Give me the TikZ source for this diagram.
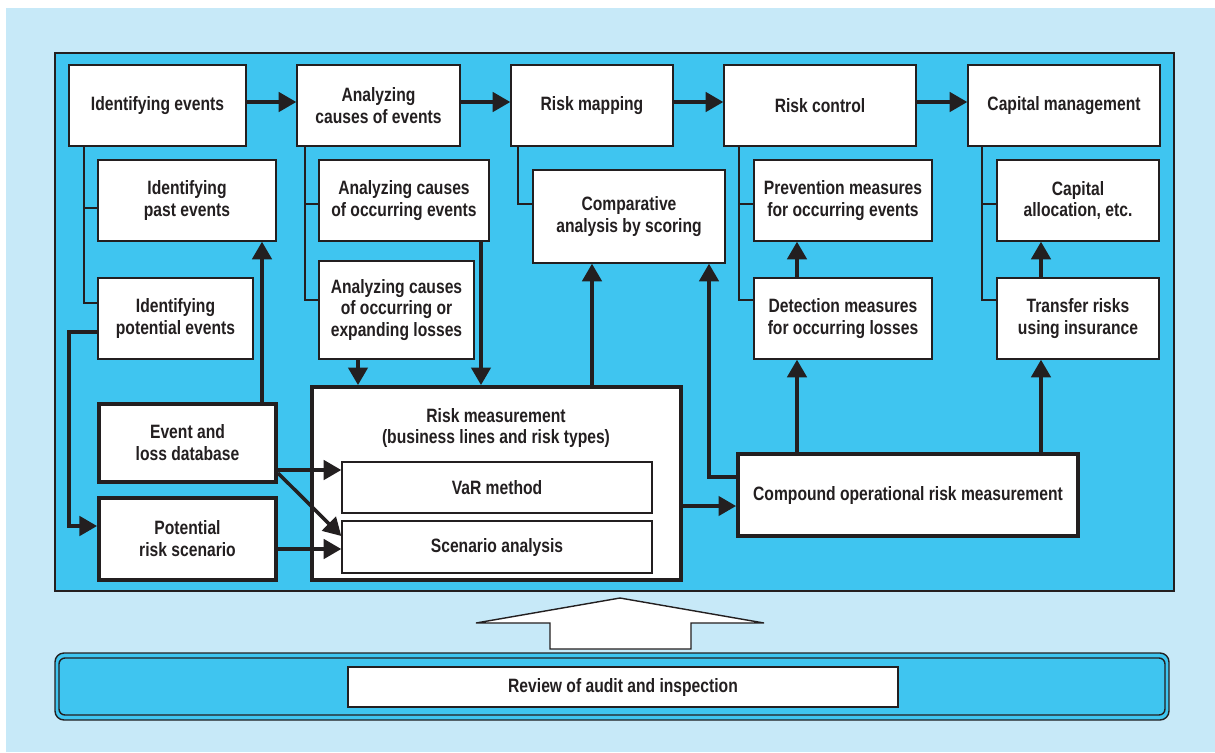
\documentclass[tikz,border=0pt]{standalone}
\usepackage{fontspec}
\setmainfont{Liberation Sans}[FakeStretch=0.81]
\usetikzlibrary{arrows.meta}
\definecolor{ink}{HTML}{231F20}
\definecolor{panel}{HTML}{3FC5F0}
\definecolor{pale}{HTML}{C7E9F8}
\newcommand\lbl{\fontsize{11}{12.5}\selectfont\bfseries}

\begin{document}
\begin{tikzpicture}[x=0.02cm,y=-0.02cm,
  boxspan/.style args={#1/#2/#3/#4}{minimum width={(#3-#1)*0.02cm},
      minimum height={(#4-#2)*0.02cm}, at={({(#1+#3)/2},{(#2+#4)/2})}},
  thinbox/.style={draw=ink,line width=0.8pt,fill=white,inner sep=0pt,
                  align=center,font=\lbl,text=ink},
  thickbox/.style={thinbox,line width=2.2pt},
  tree/.style={draw=ink,line width=0.8pt},
  flow/.style={draw=ink,line width=2pt,-{Triangle[length=10pt,width=11pt]}},
  caption/.style={font=\lbl,align=center,text=ink}]

\useasboundingbox (0,0) rectangle (1215,752);
\fill[white] (0,0) rectangle (1215,752);
\fill[pale] (6,8) rectangle (1215,752);

% main process panel
\draw[ink,line width=0.8pt,fill=panel] (55,53) rectangle (1174,591);

% top row
\node[thinbox,boxspan=69/65/246/146]   (ie)   {Identifying events};
\node[thinbox,boxspan=297/65/460/146]  (ace)  {Analyzing\\causes of events};
\node[thinbox,boxspan=511/65/673/146]  (rmap) {Risk mapping};
\node[thinbox,boxspan=724/65/916/146]  (rc)   {Risk control};
\node[thinbox,boxspan=968/65/1160/146] (cm)   {Capital management};

% second level
\node[thinbox,boxspan=98/160/276/241]   (past) {Identifying\\past events};
\node[thinbox,boxspan=98/278/253/359]   (ipe)  {Identifying\\potential events};
\node[thinbox,boxspan=319/160/489/241]  (aoe)  {Analyzing causes\\of occurring events};
\node[thinbox,boxspan=319/261/474/359]  (exl)  {Analyzing causes\\of occurring or\\expanding losses};
\node[thinbox,boxspan=533/170/725/263]  (cas)  {Comparative\\analysis by scoring};
\node[thinbox,boxspan=754/160/932/241]  (pme)  {Prevention measures\\for occurring events};
\node[thinbox,boxspan=754/278/932/359]  (dml)  {Detection measures\\for occurring losses};
\node[thinbox,boxspan=997/160/1159/241] (cal)  {Capital\\allocation, etc.};
\node[thinbox,boxspan=997/278/1159/359] (tri)  {Transfer risks\\using insurance};

% measurement level
\node[thickbox,boxspan=99/404/276/482]  (eld) {Event and\\loss database};
\node[thickbox,boxspan=99/498/276/580]  (prs) {Potential\\risk scenario};
\node[thickbox,boxspan=312/387/681/580] (rm)  {};
\node[caption] (rmt) at (496,428) {Risk measurement\\(business lines and risk types)};
\node[thinbox,boxspan=342/462/652/513]  (var) {VaR method};
\node[thinbox,boxspan=342/521/652/573]  (sca) {Scenario analysis};
\node[thickbox,boxspan=738/454/1078/536] (cor) {Compound operational risk measurement};

% tree connectors
\coordinate (ta) at (84,208);   \coordinate (tb) at (84,303);
\draw[tree] (ie.south -| ta) -- (tb) -- (ipe.west |- tb);
\draw[tree] (ta) -- (past.west |- ta);
\coordinate (tc) at (305,204);  \coordinate (td) at (305,300);
\draw[tree] (ace.south -| tc) -- (td) -- (exl.west |- td);
\draw[tree] (tc) -- (aoe.west |- tc);
\coordinate (te) at (518,204);
\draw[tree] (rmap.south -| te) -- (te) -- (cas.west |- te);
\coordinate (tf) at (739,204);  \coordinate (tg) at (739,300);
\draw[tree] (rc.south -| tf) -- (tg) -- (dml.west |- tg);
\draw[tree] (tf) -- (pme.west |- tf);
\coordinate (th) at (982,204);  \coordinate (ti) at (982,300);
\draw[tree] (cm.south -| th) -- (ti) -- (tri.west |- ti);
\draw[tree] (th) -- (cal.west |- th);

% main flow along the top
\coordinate (r0) at (0,102);
\draw[flow] (ie.east |- r0) -- (ace.west |- r0);
\draw[flow] (ace.east |- r0) -- (rmap.west |- r0);
\draw[flow] (rmap.east |- r0) -- (rc.west |- r0);
\draw[flow] (rc.east |- r0) -- (cm.west |- r0);

% identification flows
\coordinate (p1) at (69,332);  \coordinate (p2) at (69,526);
\draw[flow] (ipe.west |- p1) -- (p1) -- (p2) -- (prs.west |- p2);
\coordinate (p3) at (262,300);
\draw[flow] (eld.north -| p3) -- (past.south -| p3);
\coordinate (p4) at (0,470);
\draw[flow] (eld.east |- p4) -- (var.west |- p4);
\coordinate (p5) at (0,473);  \coordinate (p6) at (0,536);
\draw[flow] (eld.east |- p5) -- (sca.west |- p6);
\coordinate (p7) at (0,549);
\draw[flow] (prs.east |- p7) -- (sca.west |- p7);

% analysis flows
\coordinate (q1) at (358,0);  \coordinate (q2) at (481,0);
\draw[flow] (exl.south -| q1) -- (rm.north -| q1);
\draw[flow] (aoe.south -| q2) -- (rm.north -| q2);
\coordinate (q3) at (592,0);
\draw[flow] (rm.north -| q3) -- (cas.south -| q3);
\coordinate (q4) at (709,477);
\draw[flow] (cor.west |- q4) -- (q4) -- (cas.south -| q4);
\coordinate (q5) at (0,506);
\draw[flow] (rm.east |- q5) -- (cor.west |- q5);

% control flows
\coordinate (s1) at (797,0);  \coordinate (s2) at (1041,0);
\draw[flow] (cor.north -| s1) -- (dml.south -| s1);
\draw[flow] (dml.north -| s1) -- (pme.south -| s1);
\draw[flow] (cor.north -| s2) -- (tri.south -| s2);
\draw[flow] (tri.north -| s2) -- (cal.south -| s2);

% audit and inspection band
\draw[ink,line width=0.8pt,fill=panel,rounded corners=0.18cm] (55,653) rectangle (1169,720);
\draw[ink,line width=0.8pt,rounded corners=0.12cm] (59,658) rectangle (1165,715);
\node[thinbox,boxspan=348/667/898/707] (rev) {Review of audit and inspection};

% broad upward arrow
\draw[ink,line width=0.8pt,fill=white,line join=miter]
  (550,649) -- (550,623) -- (476,623) -- (620,598) -- (764,623)
  -- (691,623) -- (691,649) -- cycle;
\end{tikzpicture}
\end{document}
